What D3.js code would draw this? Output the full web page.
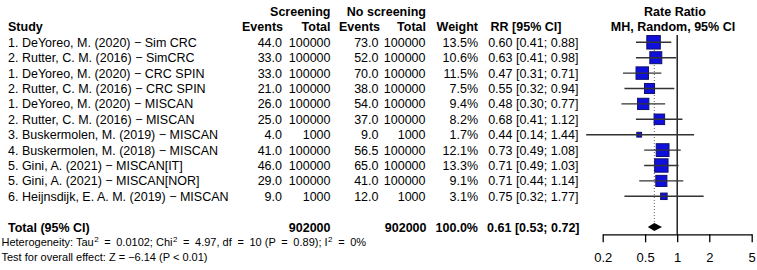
<!DOCTYPE html>
<html>
<head>
<meta charset="utf-8">
<script src="https://cdn.jsdelivr.net/npm/d3@7"></script>
<style>
  body { margin: 0; background: #fff; }
  text { font-family: Arial, "Liberation Sans", sans-serif; }
</style>
</head>
<body>
<div id="chart"></div>
<script>
'use strict';

// study rows
const studies = [
  '1. DeYoreo, M. (2020) \u2212 Sim CRC',
  '2. Rutter, C. M. (2016) \u2212 SimCRC',
  '1. DeYoreo, M. (2020) \u2212 CRC SPIN',
  '2. Rutter, C. M. (2016) \u2212 CRC SPIN',
  '1. DeYoreo, M. (2020) \u2212 MISCAN',
  '2. Rutter, C. M. (2016) \u2212 MISCAN',
  '3. Buskermolen, M. (2019) \u2212 MISCAN',
  '4. Buskermolen, M. (2018) \u2212 MISCAN',
  '5. Gini, A. (2021) \u2212 MISCAN[IT]',
  '5. Gini, A. (2021) \u2212 MISCAN[NOR]',
  '6. Heijnsdijk, E. A. M. (2019) \u2212 MISCAN'
]
const events_scr = [44.0, 33.0, 33.0, 21.0, 26.0, 25.0, 4.0, 41.0, 46.0, 29.0, 9.0]
const total_scr = [100000, 100000, 100000, 100000, 100000, 100000, 1000, 100000, 100000, 100000, 1000]
const events_ctl = [73.0, 52.0, 70.0, 38.0, 54.0, 37.0, 9.0, 56.5, 65.0, 41.0, 12.0]
const total_ctl = [100000, 100000, 100000, 100000, 100000, 100000, 1000, 100000, 100000, 100000, 1000]
const weights = [13.5, 10.6, 11.5, 7.5, 9.4, 8.2, 1.7, 12.1, 13.3, 9.1, 3.1]
const rr = [0.60, 0.63, 0.47, 0.55, 0.48, 0.68, 0.44, 0.73, 0.71, 0.71, 0.75]
const rr_lower = [0.41, 0.41, 0.31, 0.32, 0.30, 0.41, 0.14, 0.49, 0.49, 0.44, 0.32]
const rr_upper = [0.88, 0.98, 0.71, 0.94, 0.77, 1.12, 1.44, 1.08, 1.03, 1.14, 1.77]

// pooled result
const pooled_rr = [0.61, 0.53, 0.72]   // estimate, lower, upper
const pooled_totals = [902000, 902000]
const x_ticks = [0.2, 0.5, 1, 2, 5]

const width = 757
const height = 270
const font_size = 12.5

const svg = d3.select('#chart')
  .append('svg')
  .attr('width', width)
  .attr('height', height)

// rows: -2 / -1 headers, 0..10 studies, 12 total, 13..14 footnotes
const yScale = d3.scaleLinear()
  .domain([0, 10])
  .range([42.3, 196.3])

const xScale = d3.scaleLog()
  .domain([0.2, 5])
  .range([602.7, 751.7])

const boxScale = d3.scaleSqrt()
  .domain([0, d3.max(weights)])
  .range([0, 13.5])

const fmt1 = d3.format('.1f')
const fmt2 = d3.format('.2f')

// column right edges
const cols = {
  study: 8,
  ev_scr: 282,
  n_scr: 330.5,
  ev_ctl: 378.5,
  n_ctl: 425.5,
  weight: 478,
  rr: 578.5
}

const table_g = svg.append('g')
  .style('font-size', font_size + 'px')
  .style('fill', '#000')

function put_text(g, x, row, txt, anchor, bold) {
  return g.append('text')
    .attr('x', x)
    .attr('y', yScale(row))
    .attr('dy', '0.36em')
    .attr('text-anchor', anchor)
    .style('font-weight', bold ? 'bold' : 'normal')
    .text(txt)
}

// headers
put_text(table_g, cols.n_scr, -2, 'Screening', 'end', true)
put_text(table_g, cols.n_ctl + 0.5, -2, 'No screening', 'end', true)
put_text(table_g, 675, -2, 'Rate Ratio', 'middle', true)
put_text(table_g, cols.study, -1, 'Study', 'start', true)
put_text(table_g, cols.ev_scr + 1, -1, 'Events', 'end', true)
put_text(table_g, cols.n_scr, -1, 'Total', 'end', true)
put_text(table_g, cols.ev_ctl + 1.5, -1, 'Events', 'end', true)
put_text(table_g, cols.n_ctl + 0.5, -1, 'Total', 'end', true)
put_text(table_g, cols.weight, -1, 'Weight', 'end', true)
put_text(table_g, 526, -1, 'RR [95% CI]', 'middle', true)
put_text(table_g, 673, -1, 'MH, Random, 95% CI', 'middle', true)

// study rows
studies.forEach(function(s, i) {
  put_text(table_g, cols.study, i, s, 'start', false)
  put_text(table_g, cols.ev_scr, i, fmt1(events_scr[i]), 'end', false)
  put_text(table_g, cols.n_scr, i, total_scr[i], 'end', false)
  put_text(table_g, cols.ev_ctl, i, fmt1(events_ctl[i]), 'end', false)
  put_text(table_g, cols.n_ctl, i, total_ctl[i], 'end', false)
  put_text(table_g, cols.weight, i, fmt1(weights[i]) + '%', 'end', false)
  put_text(table_g, cols.rr, i,
    `${fmt2(rr[i])} [${fmt2(rr_lower[i])}; ${fmt2(rr_upper[i])}]`, 'end', false)
})

// total row
put_text(table_g, cols.study, 12, 'Total (95% CI)', 'start', true)
put_text(table_g, cols.n_scr, 12, pooled_totals[0], 'end', true)
put_text(table_g, cols.n_ctl + 1, 12, pooled_totals[1], 'end', true)
put_text(table_g, cols.weight, 12, fmt1(d3.sum(weights)) + '%', 'end', true)
put_text(table_g, cols.rr + 1, 12,
  `${fmt2(pooled_rr[0])} [${fmt2(pooled_rr[1])}; ${fmt2(pooled_rr[2])}]`, 'end', true)

// footnotes (plotmath style: wide gaps round '=', superscript 2)
const foot_g = svg.append('g').style('font-size', '11px')
const het_parts = [
  ['Heterogeneity: Tau', 0], ['2', 'sup'], ['=', 5.6], ['0.0102; Chi', 5.6],
  ['2', 'sup'], ['=', 5.6], ['4.97, df', 5.6], ['=', 5.6], ['10 (P', 5.6],
  ['=', 5.6], ['0.89); I', 5.6], ['2', 'sup'], ['=', 5.6], ['0%', 5.6]
]
const het = foot_g.append('text')
  .attr('x', 1.5)
  .attr('y', yScale(12.95))
  .attr('dy', '0.36em')
let raised = false
het_parts.forEach(function(p) {
  const ts = het.append('tspan').text(p[0])
  if (p[1] === 'sup') {
    ts.attr('font-size', '8px').attr('dy', -4).attr('dx', 0.5)
    raised = true
  } else {
    ts.attr('dx', p[1])
    if (raised) { ts.attr('dy', 4); raised = false }
  }
})

foot_g.append('text')
  .attr('x', 1.5)
  .attr('y', yScale(13.95))
  .attr('dy', '0.36em')
  .text('Test for overall effect: Z = \u22126.14 (P < 0.01)')

// forest plot
const plot_g = svg.append('g')
const axis_y = 234.3

// reference lines
plot_g.append('line')
  .attr('x1', xScale(1)).attr('x2', xScale(1))
  .attr('y1', 35).attr('y2', axis_y)
  .attr('stroke', '#000')
  .attr('stroke-width', 1.3)

plot_g.append('line')
  .attr('x1', xScale(pooled_rr[0])).attr('x2', xScale(pooled_rr[0]))
  .attr('y1', 35).attr('y2', yScale(12))
  .attr('stroke', '#666')
  .attr('stroke-width', 1)
  .attr('stroke-dasharray', '1,2')

const study_data = studies.map((s, i) => ({
  rr: rr[i], lo: rr_lower[i], hi: rr_upper[i], w: weights[i], row: i
}))

const row_g = plot_g.selectAll('g.row')
  .data(study_data)
  .join('g')
  .attr('class', 'row')

row_g.append('rect')
  .attr('x', d => xScale(d.rr) - boxScale(d.w) / 2)
  .attr('y', d => yScale(d.row) - boxScale(d.w) / 2)
  .attr('width', d => boxScale(d.w))
  .attr('height', d => boxScale(d.w))
  .attr('fill', '#1010dd')
  .attr('stroke', '#10106a')
  .attr('stroke-width', 1)

row_g.append('line')
  .attr('x1', d => xScale(d.lo))
  .attr('x2', d => xScale(d.hi))
  .attr('y1', d => yScale(d.row))
  .attr('y2', d => yScale(d.row))
  .attr('stroke', '#333')
  .attr('stroke-width', 1.4)

// pooled diamond
const yd = yScale(12)
plot_g.append('path')
  .attr('d', `M${xScale(pooled_rr[1])},${yd} L${xScale(pooled_rr[0])},${yd - 4}
    L${xScale(pooled_rr[2])},${yd} L${xScale(pooled_rr[0])},${yd + 4} Z`)
  .attr('fill', '#000')

// x axis
const xAxis = d3.axisBottom(xScale)
  .tickValues(x_ticks)
  .tickFormat(d => d)
  .tickSize(8)
  .tickSizeOuter(0)
  .tickPadding(10)

const axis_g = plot_g.append('g')
  .attr('transform', `translate(0,${axis_y})`)
  .call(xAxis)
axis_g.selectAll('text')
  .style('font-size', '13px')
  .style('font-family', 'Arial, "Liberation Sans", sans-serif')
  .attr('fill', '#000')
axis_g.selectAll('line, path').attr('stroke', '#000').attr('stroke-width', 1.3)
</script>
</body>
</html>
